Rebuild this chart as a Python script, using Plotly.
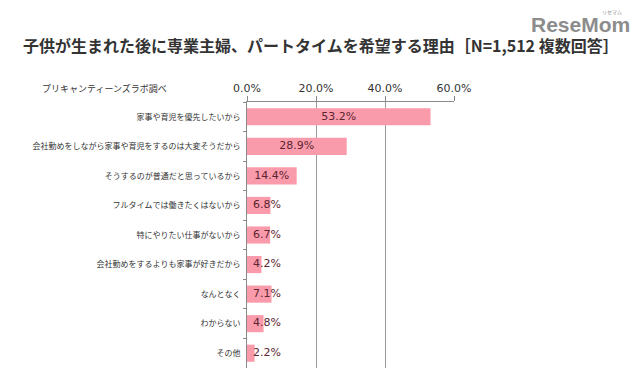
import plotly.graph_objects as go

categories = [
    "家事や育児を優先したいから",
    "会社勤めをしながら家事や育児をするのは大変そうだから",
    "そうするのが普通だと思っているから",
    "フルタイムでは働きたくはないから",
    "特にやりたい仕事がないから",
    "会社勤めをするよりも家事が好きだから",
    "なんとなく",
    "わからない",
    "その他",
]
values = [53.2, 28.9, 14.4, 6.8, 6.7, 4.2, 7.1, 4.8, 2.2]
tick_vals = [0, 20, 40, 60]
tick_text = ["0.0%", "20.0%", "40.0%", "60.0%"]

title = "子供が生まれた後に専業主婦、パートタイムを希望する理由［N=1,512 複数回答］"
source = "プリキャンティーンズラボ調べ"

FONT = "Noto Sans CJK JP"
label_x = [max(v / 2, 5.8) for v in values]

# page offset from default body margin
OFF = 8
W, H = 640 - OFF, 391 - OFF
L, R, T, B = 247 - OFF, 186, 102 - OFF, 23

fig = go.Figure()
fig.add_trace(go.Bar(
    y=categories, x=values, orientation="h",
    marker=dict(color="#FA9BAB", line=dict(width=0)),
    width=0.58, hoverinfo="skip",
))
fig.add_trace(go.Scatter(
    y=categories, x=label_x, mode="text",
    text=[f"{v:.1f}%" for v in values],
    textfont=dict(family="DejaVu Sans", size=11, color="#5a2430"),
    textposition="middle center", hoverinfo="skip",
))

fig.update_layout(
    width=W, height=H,
    margin=dict(l=L, r=R, t=T, b=B, autoexpand=False),
    paper_bgcolor="white", plot_bgcolor="white",
    showlegend=False,
    xaxis=dict(
        range=[0, 60], side="top", tickvals=tick_vals, ticktext=tick_text,
        showgrid=True, gridcolor="#9a9a9a", gridwidth=1,
        showline=True, linecolor="#8a8a8a", linewidth=1,
        ticks="outside", ticklen=5, tickcolor="#8a8a8a",
        tickfont=dict(family="DejaVu Sans", size=11, color="#333"),
        zeroline=False, fixedrange=True,
    ),
    yaxis=dict(
        autorange="reversed", categoryorder="array", categoryarray=categories,
        showline=True, linecolor="#8a8a8a", linewidth=1,
        ticks="outside", ticklen=3, tickcolor="#8a8a8a", tickson="boundaries",
        tickfont=dict(family=FONT, size=8, color="#333"),
        showgrid=False, zeroline=False, fixedrange=True, ticklabelstandoff=4,
    ),
    annotations=[
        dict(text="<b>" + title + "</b>", x=321, y=45, showarrow=False,
             font=dict(family=FONT, size=16, color="#333"), xanchor="center", yanchor="middle"),
        dict(text=source, x=40, y=88, showarrow=False,
             font=dict(family=FONT, size=9, color="#333"), xanchor="left", yanchor="middle"),
        dict(text="<b>ReseMom</b>", x=632, y=24, showarrow=False,
             font=dict(family="Liberation Sans", size=21, color="#8c8c8c"),
             xanchor="right", yanchor="middle"),
        dict(text="リセマム", x=624, y=12, showarrow=False,
             font=dict(family=FONT, size=5, color="#8c8c8c"), xanchor="right", yanchor="middle"),
    ],
)

# Convert page-pixel annotation positions to paper coordinates
pw = W - L - R
ph = H - T - B
for a in fig.layout.annotations:
    px, py = a.x - OFF, a.y - OFF
    a.x = (px - L) / pw
    a.y = 1 - (py - T) / ph
    a.xref = "paper"
    a.yref = "paper"

fig.write_html("out.html")
